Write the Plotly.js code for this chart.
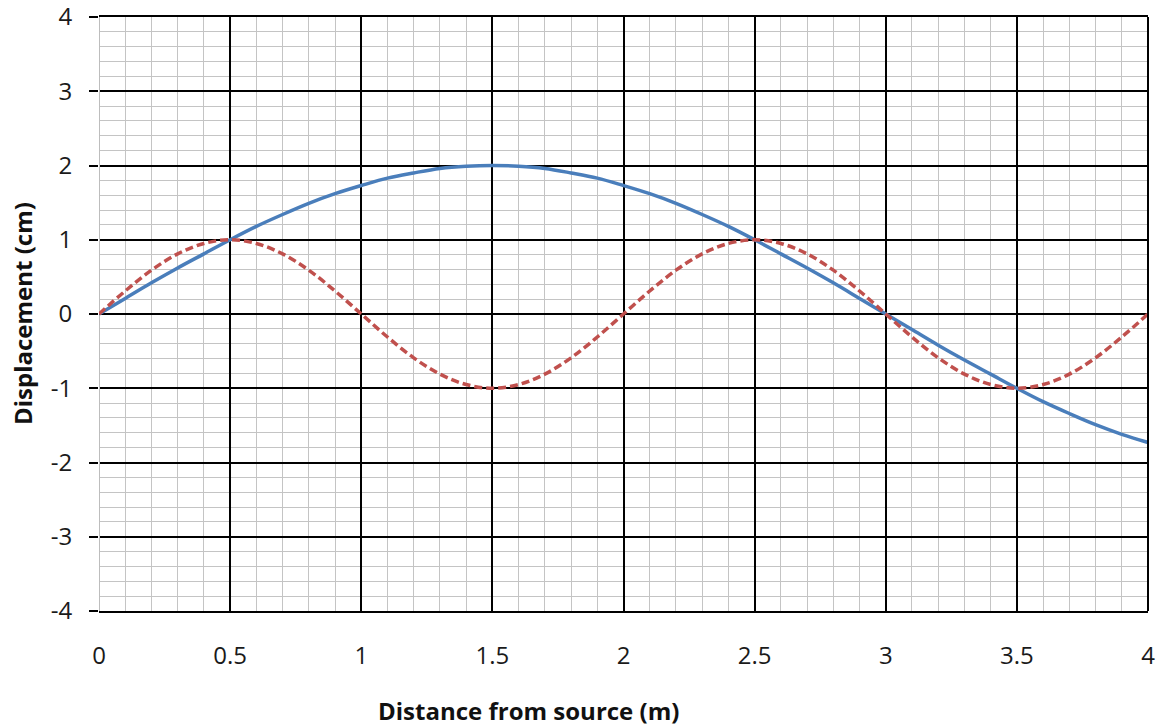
<!DOCTYPE html>
<html>
<head>
<meta charset="utf-8">
<script src="https://cdn.plot.ly/plotly-3.0.1.min.js"></script>
<style>html,body{margin:0;padding:0;background:#fff;}#chart{width:1169px;height:726px;}</style>
</head>
<body>
<div id="chart"></div>
<script>
const distance = [0,0.1,0.2,0.3,0.4,0.5,0.6,0.7,0.8,0.9,1.0,1.1,1.2,1.3,1.4,1.5,1.6,1.7,1.8,1.9,2.0,2.1,2.2,2.3,2.4,2.5,2.6,2.7,2.8,2.9,3.0,3.1,3.2,3.3,3.4,3.5,3.6,3.7,3.8,3.9,4.0];
const waveBlue = [0,0.21,0.42,0.62,0.81,1.0,1.18,1.34,1.49,1.62,1.73,1.83,1.90,1.96,1.99,2.0,1.99,1.96,1.90,1.83,1.73,1.62,1.49,1.34,1.18,1.0,0.81,0.62,0.42,0.21,0,-0.21,-0.42,-0.62,-0.81,-1.0,-1.18,-1.34,-1.49,-1.62,-1.73];
const waveRed = [0,0.31,0.59,0.81,0.95,1.0,0.95,0.81,0.59,0.31,0,-0.31,-0.59,-0.81,-0.95,-1.0,-0.95,-0.81,-0.59,-0.31,0,0.31,0.59,0.81,0.95,1.0,0.95,0.81,0.59,0.31,0,-0.31,-0.59,-0.81,-0.95,-1.0,-0.95,-0.81,-0.59,-0.31,0];
const xTicks = [0,0.5,1,1.5,2,2.5,3,3.5,4];
const xTickText = ['0','0.5','1','1.5','2','2.5','3','3.5','4'];
const yTicks = [-4,-3,-2,-1,0,1,2,3,4];
const yTickText = ['-4','-3','-2','-1','0','1','2','3','4'];

const font = 'Open Sans, Noto Sans, sans-serif';
const traces = [
  {x: distance, y: waveBlue, mode: 'lines', line: {color: '#4a7ebb', width: 3.5, shape: 'spline'}, hoverinfo: 'skip'},
  {x: distance, y: waveRed, mode: 'lines', line: {color: '#c0504d', width: 3.5, dash: '8px,4px', shape: 'spline'}, hoverinfo: 'skip'}
];
const layout = {
  width: 1169, height: 726,
  margin: {l: 99, r: 21, t: 17, b: 115},
  paper_bgcolor: '#fff', plot_bgcolor: '#fff',
  showlegend: false,
  font: {family: font, size: 24, color: '#1a1a1a'},
  xaxis: {
    range: [0, 4], tickvals: xTicks, ticktext: xTickText,
    showgrid: true, gridcolor: '#000', gridwidth: 2,
    minor: {dtick: 0.1, showgrid: true, gridcolor: '#c4c4c4', gridwidth: 1, ticks: ''},
    zeroline: true, zerolinecolor: '#bdbdbd', zerolinewidth: 1,
    showline: true, mirror: true, linecolor: '#000', linewidth: 2,
    ticks: '', ticklabelstandoff: 22, ticklabeloverflow: 'allow',
    tickfont: {family: font, size: 24, color: '#1a1a1a'},
    fixedrange: true
  },
  yaxis: {
    range: [-4, 4], tickvals: yTicks, ticktext: yTickText,
    showgrid: true, gridcolor: '#000', gridwidth: 2,
    minor: {dtick: 0.2, showgrid: true, gridcolor: '#c4c4c4', gridwidth: 1, ticks: ''},
    zeroline: true, zerolinecolor: '#000', zerolinewidth: 2,
    showline: false, ticks: 'outside', ticklen: 9, tickwidth: 2, tickcolor: '#000',
    ticklabelstandoff: 12, ticklabeloverflow: 'allow',
    tickfont: {family: font, size: 24, color: '#1a1a1a'},
    fixedrange: true
  },
  shapes: [
    {type: 'line', xref: 'paper', yref: 'paper', x0: 1, x1: 1, y0: 0, y1: 1, line: {color: '#000', width: 2}}
  ],
  annotations: [
    {text: '<b>Distance from source (m)</b>', xref: 'paper', yref: 'paper', x: 0.409, y: -0.168,
     xanchor: 'center', yanchor: 'middle', showarrow: false, font: {family: font, size: 24, color: '#111'}},
    {text: '<b>Displacement (cm)</b>', xref: 'paper', yref: 'paper', x: -0.0734, y: 0.5,
     xanchor: 'center', yanchor: 'middle', textangle: -90, showarrow: false, font: {family: font, size: 24, color: '#111'}}
  ]
};
Plotly.newPlot('chart', traces, layout, {displayModeBar: false, staticPlot: true});
</script>
</body>
</html>
